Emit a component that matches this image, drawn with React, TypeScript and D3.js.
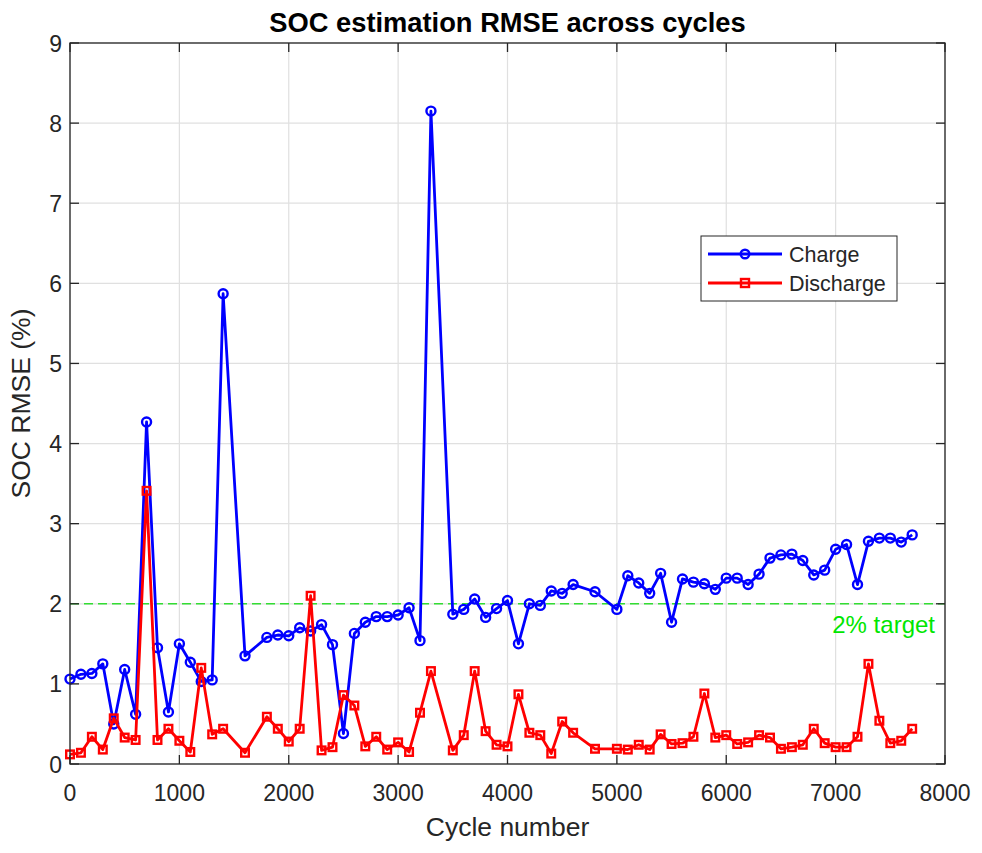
import React, { useEffect, useRef } from 'react';
import * as d3 from 'd3';

const cycles = [
  0, 100, 200, 300, 400, 500, 600, 700, 800, 900, 1000, 1100, 1200, 1300, 1400,
  1600, 1800, 1900, 2000, 2100, 2200, 2300, 2400, 2500, 2600, 2700, 2800, 2900,
  3000, 3100, 3200, 3300, 3500, 3600, 3700, 3800, 3900, 4000, 4100, 4200, 4300,
  4400, 4500, 4600, 4800, 5000, 5100, 5200, 5300, 5400, 5500, 5600, 5700, 5800,
  5900, 6000, 6100, 6200, 6300, 6400, 6500, 6600, 6700, 6800, 6900, 7000, 7100,
  7200, 7300, 7400, 7500, 7600, 7700,
];

const chargeRmse = [
  1.06, 1.12, 1.13, 1.25, 0.5, 1.18, 0.62, 4.27, 1.45, 0.65, 1.5, 1.27, 1.03, 1.05, 5.87,
  1.35, 1.58, 1.61, 1.6, 1.7, 1.66, 1.74, 1.49, 0.38, 1.63, 1.77, 1.84, 1.84,
  1.86, 1.95, 1.54, 8.15, 1.87, 1.93, 2.06, 1.83, 1.94, 2.04, 1.5, 2.0, 1.98,
  2.16, 2.13, 2.24, 2.15, 1.93, 2.35, 2.26, 2.13, 2.38, 1.77, 2.31, 2.27, 2.25,
  2.18, 2.32, 2.32, 2.24, 2.37, 2.57, 2.61, 2.62, 2.54, 2.36, 2.42, 2.68, 2.74,
  2.24, 2.78, 2.82, 2.82, 2.77, 2.86,
];

const dischargeRmse = [
  0.12, 0.14, 0.34, 0.18, 0.57, 0.33, 0.3, 3.41, 0.3, 0.44, 0.29, 0.15, 1.2, 0.37, 0.44,
  0.14, 0.59, 0.44, 0.28, 0.44, 2.1, 0.17, 0.21, 0.86, 0.73, 0.22, 0.34, 0.18,
  0.27, 0.15, 0.64, 1.16, 0.17, 0.36, 1.16, 0.41, 0.24, 0.22, 0.87, 0.39, 0.36,
  0.13, 0.53, 0.39, 0.19, 0.19, 0.18, 0.24, 0.18, 0.37, 0.25, 0.26, 0.34, 0.88,
  0.33, 0.36, 0.25, 0.27, 0.36, 0.33, 0.19, 0.21, 0.24, 0.44, 0.26, 0.21, 0.21,
  0.34, 1.25, 0.54, 0.26, 0.29, 0.44,
];

const xTicks = [0, 1000, 2000, 3000, 4000, 5000, 6000, 7000, 8000];
const yTicks = [0, 1, 2, 3, 4, 5, 6, 7, 8, 9];
const targetLevel = 2;

const series = [
  { name: 'Charge', values: chargeRmse, color: '#0000ff', marker: 'circle' },
  { name: 'Discharge', values: dischargeRmse, color: '#ff0000', marker: 'square' },
];

const W = 982;
const H = 853;
const margin = { top: 43, right: 37, bottom: 89, left: 70 };

const FONT = '"Liberation Sans", Arial, Helvetica, sans-serif';
const AXIS_COLOR = '#262626';

const App: React.FC = () => {
  const svgRef = useRef<SVGSVGElement>(null);

  useEffect(() => {
    if (!svgRef.current) return;
    const width = W - margin.left - margin.right;
    const height = H - margin.top - margin.bottom;

    const root = d3.select(svgRef.current).html('');
    root.append('rect').attr('width', W).attr('height', H).attr('fill', '#fff');

    const svg = root.append('g').attr('transform', `translate(${margin.left},${margin.top})`);

    const x = d3.scaleLinear().domain([0, 8000]).range([0, width]);
    const y = d3.scaleLinear().domain([0, 9]).range([height, 0]);

    // Grid
    svg.append('g')
      .selectAll('line')
      .data(xTicks)
      .join('line')
      .attr('x1', d => x(d)).attr('x2', d => x(d))
      .attr('y1', 0).attr('y2', height)
      .attr('stroke', '#e0e0e0').attr('stroke-width', 1.2);
    svg.append('g')
      .selectAll('line')
      .data(yTicks)
      .join('line')
      .attr('y1', d => y(d)).attr('y2', d => y(d))
      .attr('x1', 0).attr('x2', width)
      .attr('stroke', '#e0e0e0').attr('stroke-width', 1.2);

    // Target line
    svg.append('line')
      .attr('x1', 0).attr('x2', width)
      .attr('y1', y(targetLevel)).attr('y2', y(targetLevel))
      .attr('stroke', '#33dd33').attr('stroke-width', 1.5)
      .attr('stroke-dasharray', '9,5');
    svg.append('text')
      .attr('x', width - 10)
      .attr('y', y(targetLevel) + 29)
      .attr('text-anchor', 'end')
      .style('font-family', FONT)
      .style('font-size', '24px')
      .style('fill', '#00e600')
      .text('2% target');

    // Series
    series.forEach(s => {
      const line = d3.line<number>()
        .x((_, i) => x(cycles[i]))
        .y(d => y(d));
      svg.append('path')
        .datum(s.values)
        .attr('d', line)
        .attr('fill', 'none')
        .attr('stroke', s.color)
        .attr('stroke-width', 2.8)
        .attr('stroke-linejoin', 'round');

      const g = svg.append('g');
      if (s.marker === 'circle') {
        g.selectAll('circle')
          .data(s.values)
          .join('circle')
          .attr('cx', (_, i) => x(cycles[i]))
          .attr('cy', d => y(d))
          .attr('r', 4.5)
          .attr('fill', 'none')
          .attr('stroke', s.color)
          .attr('stroke-width', 2.4);
      } else {
        g.selectAll('rect')
          .data(s.values)
          .join('rect')
          .attr('x', (_, i) => x(cycles[i]) - 3.8)
          .attr('y', d => y(d) - 3.8)
          .attr('width', 7.6)
          .attr('height', 7.6)
          .attr('fill', 'none')
          .attr('stroke', s.color)
          .attr('stroke-width', 2.4);
      }
    });

    // Axes box
    svg.append('rect')
      .attr('x', 0).attr('y', 0)
      .attr('width', width).attr('height', height)
      .attr('fill', 'none')
      .attr('stroke', AXIS_COLOR)
      .attr('stroke-width', 1.3);

    const tickLen = 9;
    const tickG = svg.append('g').attr('stroke', AXIS_COLOR).attr('stroke-width', 1.3);
    xTicks.forEach(t => {
      tickG.append('line').attr('x1', x(t)).attr('x2', x(t)).attr('y1', height).attr('y2', height - tickLen);
      tickG.append('line').attr('x1', x(t)).attr('x2', x(t)).attr('y1', 0).attr('y2', tickLen);
    });
    yTicks.forEach(t => {
      tickG.append('line').attr('y1', y(t)).attr('y2', y(t)).attr('x1', 0).attr('x2', tickLen);
      tickG.append('line').attr('y1', y(t)).attr('y2', y(t)).attr('x1', width).attr('x2', width - tickLen);
    });

    // Tick labels
    svg.append('g')
      .selectAll('text')
      .data(xTicks)
      .join('text')
      .attr('x', d => x(d))
      .attr('y', height + 37)
      .attr('text-anchor', 'middle')
      .style('font-family', FONT)
      .style('font-size', '23px')
      .style('fill', AXIS_COLOR)
      .text(d => String(d));
    svg.append('g')
      .selectAll('text')
      .data(yTicks)
      .join('text')
      .attr('x', -8)
      .attr('y', d => y(d) + 8.5)
      .attr('text-anchor', 'end')
      .style('font-family', FONT)
      .style('font-size', '23px')
      .style('fill', AXIS_COLOR)
      .text(d => String(d));

    // Axis labels
    svg.append('text')
      .attr('x', width / 2)
      .attr('y', height + 72)
      .attr('text-anchor', 'middle')
      .style('font-family', FONT)
      .style('font-size', '26.5px')
      .style('fill', AXIS_COLOR)
      .text('Cycle number');
    svg.append('text')
      .attr('transform', `translate(${-40},${height / 2}) rotate(-90)`)
      .attr('text-anchor', 'middle')
      .style('font-family', FONT)
      .style('font-size', '26.5px')
      .style('fill', AXIS_COLOR)
      .text('SOC RMSE (%)');

    // Title
    root.append('text')
      .attr('x', margin.left + width / 2)
      .attr('y', 32)
      .attr('text-anchor', 'middle')
      .style('font-family', FONT)
      .style('font-size', '27.3px')
      .style('font-weight', 'bold')
      .style('fill', '#000')
      .text('SOC estimation RMSE across cycles');

    // Legend
    const lg = root.append('g').attr('transform', 'translate(701,236)');
    lg.append('rect')
      .attr('width', 196).attr('height', 65)
      .attr('fill', '#fff')
      .attr('stroke', AXIS_COLOR)
      .attr('stroke-width', 1);
    series.forEach((s, i) => {
      const cy = 18 + i * 29;
      lg.append('line')
        .attr('x1', 7).attr('x2', 81)
        .attr('y1', cy).attr('y2', cy)
        .attr('stroke', s.color).attr('stroke-width', 2.8);
      if (s.marker === 'circle') {
        lg.append('circle').attr('cx', 44).attr('cy', cy).attr('r', 4.3)
          .attr('fill', 'none').attr('stroke', s.color).attr('stroke-width', 2.4);
      } else {
        lg.append('rect').attr('x', 40).attr('y', cy - 4).attr('width', 8).attr('height', 8)
          .attr('fill', 'none').attr('stroke', s.color).attr('stroke-width', 2.4);
      }
      lg.append('text')
        .attr('x', 88)
        .attr('y', cy + 8)
        .style('font-family', FONT)
        .style('font-size', '21.5px')
        .style('fill', AXIS_COLOR)
        .text(s.name);
    });
  }, []);

  return (
    <svg
      ref={svgRef}
      width={W}
      height={H}
      style={{ position: 'absolute', left: 0, top: 0, display: 'block' }}
    />
  );
};

export default App;
